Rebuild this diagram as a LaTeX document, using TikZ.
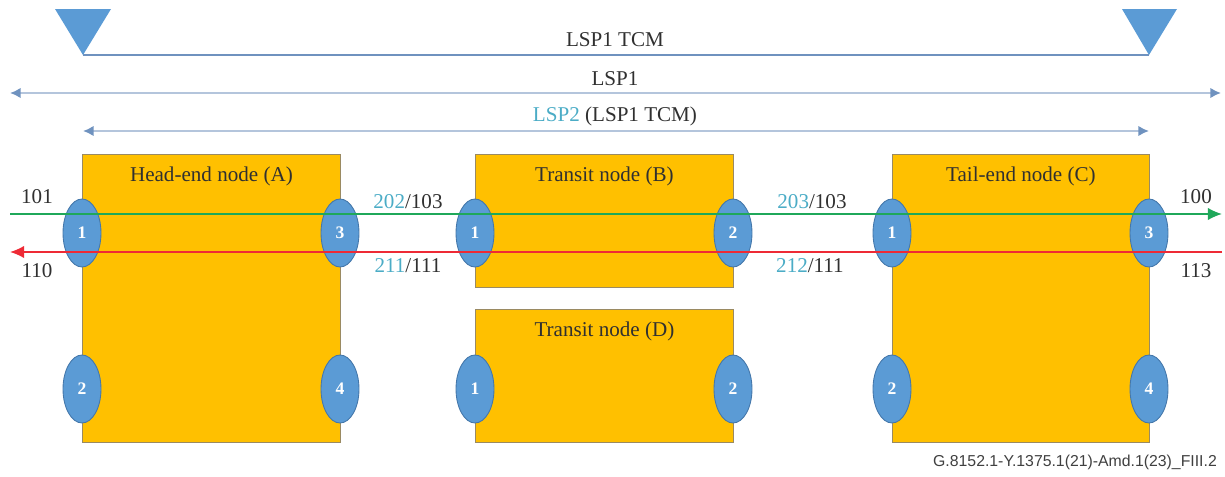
\documentclass[tikz,border=0pt]{standalone}
\usepackage{fontspec}
\setmainfont{Liberation Serif}
\setsansfont{Liberation Sans}
\usetikzlibrary{arrows.meta}
\usetikzlibrary{shapes,positioning,calc}
\definecolor{boxorange}{HTML}{FFC000}
\definecolor{boxedge}{HTML}{9A8A62}
\definecolor{portblue}{HTML}{5B9BD5}
\definecolor{portedge}{HTML}{4477AA}
\definecolor{lsplight}{HTML}{B4C5DC}
\definecolor{lspdark}{HTML}{6F92BF}
\definecolor{lblteal}{HTML}{4BACC6}
\definecolor{fwdgreen}{HTML}{1FA85A}
\definecolor{bwdred}{HTML}{EE2A35}
\definecolor{txtdark}{HTML}{303030}
\tikzset{
	nodebox/.style={draw=boxedge, fill=boxorange, line width=0.5pt, anchor=north west, inner sep=0pt},
	port/.style={ellipse, fill=portblue, draw=portedge, line width=0.5pt, minimum width=0.76cm, minimum height=1.36cm, inner sep=0pt, text=white, font=\fontsize{10}{11}\selectfont\bfseries},
	boxtitle/.style={text=txtdark, font=\fontsize{12}{14}\selectfont},
	lbl/.style={text=txtdark, font=\fontsize{12}{14}\selectfont},
	lsparrow/.style={lsplight, line width=1.4pt, {Latex[length=6pt,width=6pt,color=lspdark]}-{Latex[length=6pt,width=6pt,color=lspdark]}},
}

\begin{document}
\begin{tikzpicture}[x=0.02cm, y=-0.02cm]
	\useasboundingbox (0,0) rectangle (1225,477);

	% LSP segments on top
	\fill[portblue] (55,9) -- (111,9) -- (83,55) -- cycle;
	\fill[portblue] (1122,9) -- (1177,9) -- (1149,55) -- cycle;
	\coordinate (tcmL) at (83,55);
	\coordinate (tcmR) at (1149,55);
	\draw[lspdark, line width=1.4pt] (tcmL) -- (tcmR);
	\node[lbl] (tcm) at (615,40) {LSP1 TCM};

	\coordinate (lspA) at (10,93);
	\coordinate (lspB) at (1221,93);
	\draw[lsparrow] (lspA) -- (lspB);
	\node[lbl] (lspone) at (615,79) {LSP1};

	\coordinate (lsptwoA) at (83,131);
	\coordinate (lsptwoB) at (1149,131);
	\draw[lsparrow] (lsptwoA) -- (lsptwoB);
	\node[lbl] (lsptwo) at (615,116) {\textcolor{lblteal}{LSP2} (LSP1 TCM)};

	% nodes
	\node[nodebox, minimum width=5.16cm, minimum height=5.76cm] (A) at (82,154) {};
	\node[nodebox, minimum width=5.16cm, minimum height=2.66cm] (B) at (475,154) {};
	\node[nodebox, minimum width=5.16cm, minimum height=2.66cm] (D) at (475,309) {};
	\node[nodebox, minimum width=5.14cm, minimum height=5.76cm] (C) at (892,154) {};

	\node[boxtitle] (tA) at ($(A.north)+(0,22)$) {Head-end node (A)};
	\node[boxtitle] (tB) at ($(B.north)+(0,22)$) {Transit node (B)};
	\node[boxtitle] (tD) at ($(D.north)+(0,22)$) {Transit node (D)};
	\node[boxtitle] (tC) at ($(C.north)+(0,22)$) {Tail-end node (C)};

	% ports
	\node[port] (A1) at (82,233) {1};
	\node[port] (A2) at (82,389) {2};
	\node[port] (A3) at (340,233) {3};
	\node[port] (A4) at (340,389) {4};
	\node[port] (B1) at (475,233) {1};
	\node[port] (B2) at (733,233) {2};
	\node[port] (D1) at (475,389) {1};
	\node[port] (D2) at (733,389) {2};
	\node[port] (C1) at (892,233) {1};
	\node[port] (C2) at (892,389) {2};
	\node[port] (C3) at (1149,233) {3};
	\node[port] (C4) at (1149,389) {4};

	% forward and backward paths
	\coordinate (fwdIn) at (10,214);
	\coordinate (fwdOut) at (1222,214);
	\coordinate (bwdIn) at (1222,252);
	\coordinate (bwdOut) at (10,252);
	\draw[fwdgreen, line width=0.8pt, -{Latex[length=8pt,width=7pt]}] (fwdIn) -- (fwdOut);
	\draw[bwdred, line width=0.8pt, -{Latex[length=8pt,width=7pt]}] (bwdIn) -- (bwdOut);

	% labels
	\node[lbl] (l101) at (37,197) {101};
	\node[lbl] (l110) at (37,271) {110};
	\node[lbl] (l202) at (408,202) {\textcolor{lblteal}{202}/103};
	\node[lbl] (l211) at (408,266) {\textcolor{lblteal}{211}/111};
	\node[lbl] (l203) at (812,202) {\textcolor{lblteal}{203}/103};
	\node[lbl] (l212) at (810,266) {\textcolor{lblteal}{212}/111};
	\node[lbl] (l100) at (1196,197) {100};
	\node[lbl] (l113) at (1196,271) {113};

	\node[anchor=east, font=\sffamily\fontsize{9}{10}\selectfont, text=black!75] (fig) at (1223,462) {G.8152.1-Y.1375.1(21)-Amd.1(23)\_FIII.2};
\end{tikzpicture}
\end{document}
